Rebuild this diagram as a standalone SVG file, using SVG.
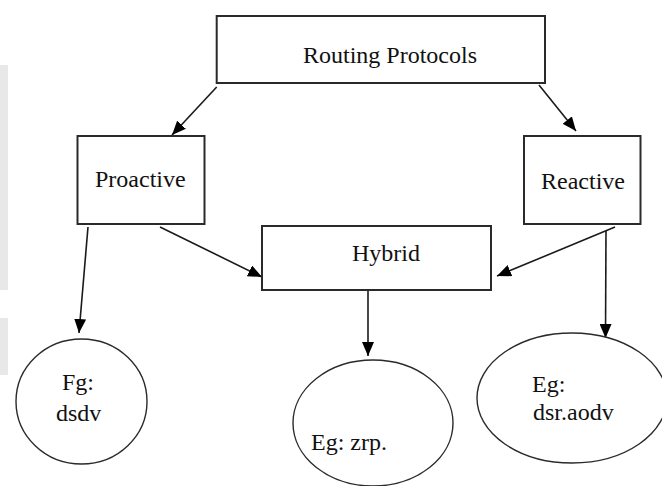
<svg xmlns="http://www.w3.org/2000/svg" width="662" height="486" viewBox="0 0 662 486">
  <style>
    .box { fill: #ffffff; stroke: #2a2a2a; stroke-width: 2; }
    .oval { fill: #ffffff; stroke: #2a2a2a; stroke-width: 1.4; }
    text { font-family: 'Liberation Serif', 'Times New Roman', serif; font-size: 24px; fill: #111111; }
    .edge { fill: none; stroke: #1a1a1a; stroke-width: 1.6; marker-end: url(#head); }
  </style>
  <defs>
    <marker id="head" markerUnits="userSpaceOnUse" markerWidth="14" markerHeight="12" viewBox="0 0 14 12" refX="14" refY="6" orient="auto">
      <path d="M0,0 L14,6 L0,12 Z" fill="#000000"/>
    </marker>
  </defs>

  <rect width="662" height="486" fill="#ffffff"/>
  <!-- page margin shading -->
  <rect x="0" y="65" width="8" height="225" fill="#e8e8e8"/>
  <rect x="0" y="318" width="8" height="57" fill="#e8e8e8"/>

  <g id="connectors">
    <line class="edge" x1="216.7" y1="87" x2="172" y2="135"/>
    <line class="edge" x1="539" y1="85" x2="576" y2="131"/>
    <line class="edge" x1="88" y1="227" x2="79" y2="333"/>
    <line class="edge" x1="160" y1="227" x2="262" y2="277"/>
    <line class="edge" x1="615" y1="227" x2="497" y2="276"/>
    <line class="edge" x1="368" y1="290" x2="368" y2="356"/>
    <line class="edge" x1="606" y1="231" x2="605.5" y2="338"/>
  </g>

  <g id="routing-protocols">
    <rect class="box" x="216.7" y="16" width="328.3" height="67"/>
    <text x="303" y="63">Routing Protocols</text>
  </g>

  <g id="proactive">
    <rect class="box" x="77.5" y="136" width="127" height="88"/>
    <text x="95" y="187">Proactive</text>
  </g>

  <g id="reactive">
    <rect class="box" x="524" y="136" width="116.5" height="88"/>
    <text x="541" y="189">Reactive</text>
  </g>

  <g id="hybrid">
    <rect class="box" x="262" y="226" width="229" height="64"/>
    <text x="352" y="261">Hybrid</text>
  </g>

  <g id="eg-dsdv">
    <ellipse class="oval" cx="81.5" cy="401.5" rx="65.5" ry="62.5"/>
    <text x="62" y="390">Fg:</text>
    <text x="56" y="421">dsdv</text>
  </g>

  <g id="eg-zrp">
    <ellipse class="oval" cx="373" cy="423" rx="80" ry="63"/>
    <text x="311" y="450">Eg: zrp.</text>
  </g>

  <g id="eg-dsr-aodv">
    <ellipse class="oval" cx="572" cy="398" rx="95" ry="65"/>
    <text x="532" y="392">Eg:</text>
    <text x="533" y="420">dsr.aodv</text>
  </g>
</svg>
